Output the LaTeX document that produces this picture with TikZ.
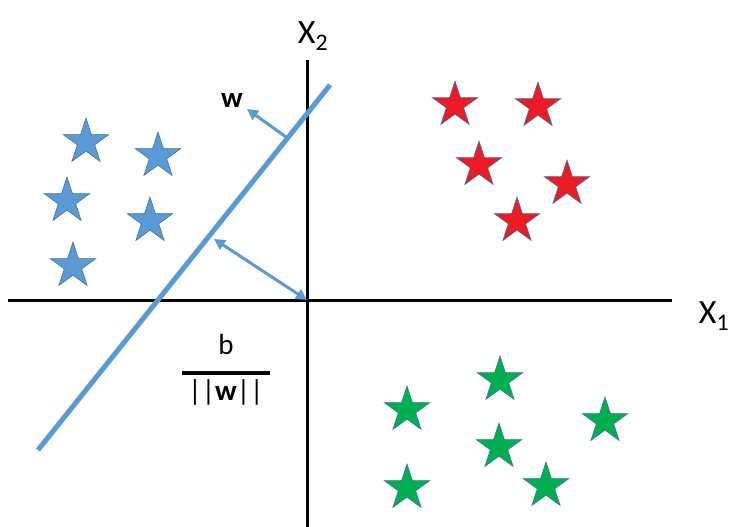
\documentclass[tikz,border=0pt]{standalone}
\usepackage{fontspec}
\setmainfont{Carlito}
\usepackage{xcolor}
\usepackage{tikz}
\usetikzlibrary{
  arrows.meta,
  shapes.geometric,
  positioning,
  calc
}
\definecolor{svBlue}{HTML}{5B9BD5}
\definecolor{svEdge}{HTML}{41719C}
\definecolor{svRed}{HTML}{ED1C24}
\definecolor{svGreen}{HTML}{00B050}
\tikzset{
  svstar/.style={
    star, star points=5, star point ratio=2.618, minimum size=48pt,
    inner sep=0pt, draw=svEdge, line width=0.6pt
  },
  bluestar/.style={svstar, fill=svBlue},
  redstar/.style={svstar, fill=svRed},
  greenstar/.style={svstar, fill=svGreen},
  axisline/.style={line width=3pt, black},
  hyper/.style={line width=5pt, svBlue},
  normal/.style={-{Triangle[length=11pt, width=11pt]}, line width=3pt, svBlue},
  margin/.style={{Triangle[length=11pt, width=11pt]}-{Triangle[length=11pt, width=11pt]}, line width=3pt, svBlue},
  axislabel/.style={font=\fontsize{34}{36}\selectfont, inner sep=0pt},
  tag/.style={font=\fontsize{29}{31}\selectfont, inner sep=0pt, align=center}
}

\begin{document}
\begin{tikzpicture}[x=1pt, y=-1pt]
  \useasboundingbox (0,0) rectangle (732,527);

  % axes
  \coordinate (xl) at (8,300);
  \coordinate (xr) at (672,300);
  \coordinate (yt) at (307,60);
  \coordinate (yb) at (307,527);
  \coordinate (origin) at (307,300);
  \draw[axisline] (xl) -- (xr);
  \draw[axisline] (yt) -- (yb);
  \node[axislabel] (xone) at (714,316) {X\textsubscript{1}};
  \node[axislabel] (xtwo) at (313,36) {X\textsubscript{2}};

  % separating line and its normal
  \coordinate (hlow) at (38,450);
  \coordinate (hhigh) at (330,85);
  \draw[hyper] (hlow) -- (hhigh);
  \coordinate (wfoot) at (286,137);
  \coordinate (wtip) at (247,109);
  \draw[normal] (wfoot) -- (wtip);
  \node[tag, font=\fontsize{29}{31}\selectfont\bfseries] (wlbl) at (232,100) {w};
  \coordinate (mfoot) at (214,239);
  \draw[margin] (mfoot) -- (origin);
  \node[tag] (dist) at (226,370)
    {b\\[-11pt]\rule{88pt}{4pt}\\[-5pt]||\textbf{w}||};

  % class one
  \node[bluestar] (b1) at (86,142) {};
  \node[bluestar] (b2) at (158,156) {};
  \node[bluestar] (b3) at (67,201) {};
  \node[bluestar] (b4) at (150,221) {};
  \node[bluestar] (b5) at (73,266) {};

  % class two
  \node[redstar] (r1) at (455,105) {};
  \node[redstar] (r2) at (538,106) {};
  \node[redstar] (r3) at (479,165) {};
  \node[redstar] (r4) at (567,184) {};
  \node[redstar] (r5) at (517,221) {};

  % class three
  \node[greenstar] (g1) at (500,380) {};
  \node[greenstar] (g2) at (407,410) {};
  \node[greenstar] (g3) at (605,421) {};
  \node[greenstar] (g4) at (499,447) {};
  \node[greenstar] (g5) at (407,488) {};
  \node[greenstar] (g6) at (546,486) {};
\end{tikzpicture}
\end{document}
